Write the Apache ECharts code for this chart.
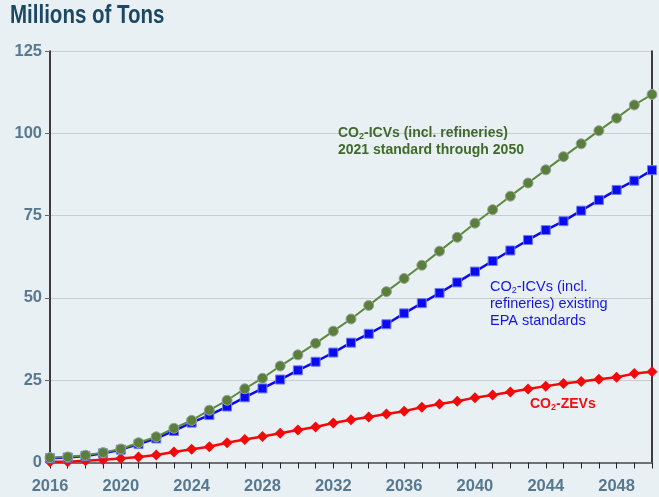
<!DOCTYPE html>
<html>
<head>
<meta charset="utf-8">
<script src="https://cdn.jsdelivr.net/npm/echarts@6.0.0/dist/echarts.min.js"></script>
<style>
	html,body{margin:0;padding:0;background:#e9f0f4;}
	#chart{width:659px;height:497px;}
</style>
</head>
<body>
<div id="chart"></div>
<script>
// 年份
var years = [];
for (var y = 2016; y <= 2050; y++) years.push(String(y));

// CO2-ICVs (incl. refineries) 2021 standard through 2050
var icv2021 = [1.5,1.7,2.2,3.0,4.1,6.0,7.8,10.4,12.8,15.9,18.9,22.4,25.6,29.3,32.7,36.2,39.9,43.6,47.7,51.9,
	55.9,59.9,64.2,68.4,72.7,76.8,80.9,84.9,88.9,92.9,96.8,100.8,104.6,108.6,111.8];
// CO2-ICVs (incl. refineries) existing EPA standards
var icvEpa = [1.3,1.5,2.0,2.8,3.9,5.6,7.3,9.6,12.1,14.4,17.0,19.8,22.5,25.2,28.0,30.6,33.4,36.4,39.1,42.0,
	45.3,48.4,51.5,54.7,58.0,61.2,64.4,67.6,70.6,73.3,76.5,79.7,82.8,85.6,88.8];
// CO2-ZEVs
var zevs = [0.2,0.2,0.5,0.8,1.2,1.7,2.3,3.2,4.0,4.8,6.0,7.0,7.9,8.9,9.9,10.8,12.0,13.0,13.8,14.7,
	15.6,16.8,17.8,18.6,19.7,20.5,21.4,22.3,23.2,24.0,24.6,25.3,25.9,27.0,27.6];

var sans = "'Liberation Sans', Arial, sans-serif";

function label(x, y, lines, color, weight, size){
	// 带下标的说明文字
	var rich = {
		a: {fontFamily: sans, fontSize: size, fontWeight: weight, color: color, lineHeight: 17},
		s: {fontFamily: sans, fontSize: 9, fontWeight: weight, color: color, padding: [7, 0, 0, 0], lineHeight: 17}
	};
	return {
		type: 'text', left: x, top: y, z: 100,
		style: {text: lines.join('\n'), rich: rich, fill: color}
	};
}

function draw(){
	var myChart = echarts.init(document.getElementById('chart'));
	var option = {
		backgroundColor: '#e9f0f4',
		animation: false,
		grid: {left: 50, right: 7, top: 51, bottom: 34.5},
		xAxis: [{
			type: 'category', data: years, boundaryGap: false,
			axisLine: {lineStyle: {color: '#000', width: 2}},
			axisTick: {interval: 0, length: 6, lineStyle: {color: '#222'}},
			axisLabel: {interval: 3, margin: 15, fontFamily: sans, fontSize: 16.5, fontWeight: 'bold', color: '#587890'}
		}, {
			type: 'category', data: years, boundaryGap: false, position: 'top',
			axisLine: {lineStyle: {color: '#707070', width: 2}},
			axisTick: {show: false}, axisLabel: {show: false}
		}],
		yAxis: [{
			type: 'value', min: 0, max: 125, interval: 25,
			axisLine: {show: true, lineStyle: {color: '#000', width: 1.5}},
			axisTick: {show: true, length: 5, lineStyle: {color: '#666'}},
			axisLabel: {margin: 8, fontFamily: sans, fontSize: 16.5, fontWeight: 'bold', color: '#587890'},
			splitLine: {lineStyle: {color: '#c8cdd0', width: 1}}
		}, {
			type: 'value', min: 0, max: 125, interval: 25, position: 'right',
			axisLine: {show: true, lineStyle: {color: '#000', width: 1.5}},
			axisTick: {show: false}, axisLabel: {show: false}, splitLine: {show: false}
		}],
		series: [{
			name: 'CO2-ZEVs', type: 'line', data: zevs,
			symbol: 'diamond', symbolSize: 11,
			lineStyle: {color: '#f20a0a', width: 2.5},
			itemStyle: {color: '#f20a0a'}
		}, {
			name: 'CO2-ICVs EPA', type: 'line', data: icvEpa,
			symbol: 'rect', symbolSize: 9,
			lineStyle: {color: '#0a0af0', width: 2.5},
			itemStyle: {color: '#0a0af0', borderColor: '#6f7cf0', borderWidth: 1}
		}, {
			name: 'CO2-ICVs 2021', type: 'line', data: icv2021,
			symbol: 'circle', symbolSize: 10,
			lineStyle: {color: '#5a8a3c', width: 2},
			itemStyle: {color: '#5a7f3c', borderColor: '#9aa59a', borderWidth: 1}
		}],
		graphic: [
			// 标题（窄体，横向压缩）
			{
				type: 'text', x: 10, y: 16.5, scaleX: 0.82, z: 100,
				style: {text: 'Millions of Tons', fontFamily: sans, fontSize: 25, fontWeight: 'bold',
					fill: '#1c4863', verticalAlign: 'middle', align: 'left'}
			},
			label(338, 125, ['{a|CO}{s|2}{a|-ICVs (incl. refineries)}', '{a|2021 standard through 2050}'], '#3f6a2a', 'bold', 14),
			label(490, 279, ['{a|CO}{s|2}{a|-ICVs (incl.}', '{a|refineries) existing}', '{a|EPA standards}'], '#1515e0', 'normal', 14.5),
			label(530, 396, ['{a|CO}{s|2}{a|-ZEVs}'], '#ee1010', 'bold', 14)
		]
	};
	myChart.setOption(option);
}

draw();
</script>
</body>
</html>
